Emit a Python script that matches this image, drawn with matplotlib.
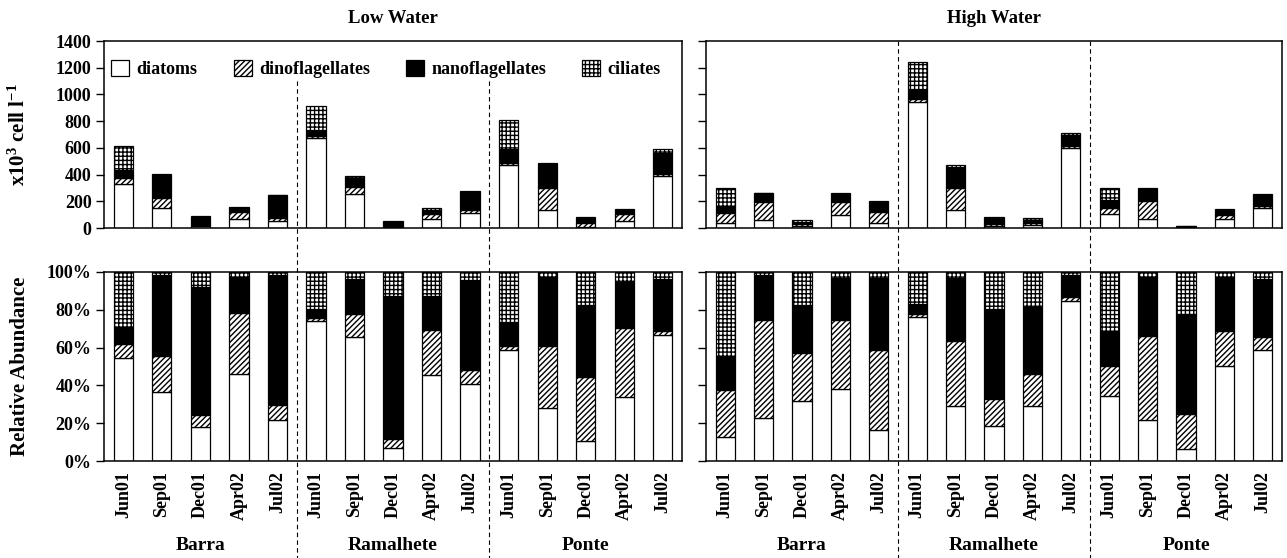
import numpy as np
import matplotlib.pyplot as plt
from matplotlib.transforms import blended_transform_factory
from matplotlib.lines import Line2D

plt.rcParams['font.family'] = ['Liberation Serif', 'DejaVu Serif']
plt.rcParams['font.weight'] = 'bold'
plt.rcParams['mathtext.fontset'] = 'custom'
plt.rcParams['mathtext.rm'] = 'Liberation Serif:bold'
plt.rcParams['mathtext.bf'] = 'Liberation Serif:bold'
plt.rcParams['mathtext.it'] = 'Liberation Serif:bold'
plt.rcParams['hatch.linewidth'] = 1.0

sites = ['Barra', 'Ramalhete', 'Ponte']
dates = ['Jun01', 'Sep01', 'Dec01', 'Apr02', 'Jul02']
groups = ['diatoms', 'dinoflagellates', 'nanoflagellates', 'ciliates']

# abundances, x10^3 cell/l ; Barra, Ramalhete, Ponte x (Jun01, Sep01, Dec01, Apr02, Jul02)
low_diatoms = [332, 147, 16, 71, 54,   673, 258, 3.5, 67, 113,   473, 138, 8.8, 49, 392]
low_dino    = [46, 76, 6, 50, 20,      16, 47, 2.2, 35, 20,      15, 160, 27.9, 53, 12]
low_nano    = [55, 173, 61, 30, 170,   43, 73, 37.9, 26, 133,    103, 177, 32.0, 35, 161]
low_cil     = [179, 6, 7, 4, 4,        178, 14, 6.4, 19, 11,     214, 14, 14.3, 8, 23]

high_diatoms = [38, 60, 18.4, 101, 34,   946, 136, 15.4, 22, 602,   104, 65, 1.1, 71, 150]
high_dino    = [75, 138, 14.6, 97, 86,   17, 162, 11.7, 12.9, 13,   47, 135, 3.4, 26, 17]
high_nano    = [55, 63, 14.8, 58, 78,    70, 158, 39.5, 27.1, 84,   56, 95, 9.5, 40, 79]
high_cil     = [134, 4, 10.2, 9, 7,      209, 15, 16.4, 14.1, 10,   94, 8, 4.0, 4, 9]

styles = [dict(color='white', hatch=None),
          dict(color='white', hatch='//////'),
          dict(color='black', hatch=None),
          dict(color='white', hatch='++++')]

W, H = 1287, 558
fig = plt.figure(figsize=(W / 100, H / 100), dpi=100)


def px(x0, y0, x1, y1):
    return [x0 / W, 1 - y1 / H, (x1 - x0) / W, (y1 - y0) / H]


axes = [
    (fig.add_axes(px(104, 41, 682, 228)), fig.add_axes(px(104, 272, 682, 461)),
     'Low Water', [low_diatoms, low_dino, low_nano, low_cil], True),
    (fig.add_axes(px(706, 41, 1282, 228)), fig.add_axes(px(706, 272, 1282, 461)),
     'High Water', [high_diatoms, high_dino, high_nano, high_cil], False),
]

x = np.arange(len(sites) * len(dates))
labels = dates * len(sites)

for ax_t, ax_b, title, data, first in axes:
    data = np.array(data, dtype=float)
    total = data.sum(axis=0)
    pct = data / total * 100
    bt = np.zeros(len(x))
    bb = np.zeros(len(x))
    for i, name in enumerate(groups):
        st = styles[i]
        ax_t.bar(x, data[i], 0.5, bottom=bt, color=st['color'], hatch=st['hatch'],
                 edgecolor='black', linewidth=0.9, label=name)
        ax_b.bar(x, pct[i], 0.5, bottom=bb, color=st['color'], hatch=st['hatch'],
                 edgecolor='black', linewidth=0.9)
        bt += data[i]
        bb += pct[i]

    for ax in (ax_t, ax_b):
        ax.set_xlim(-0.5, 14.5)
        for s in ax.spines.values():
            s.set_linewidth(1.1)
        ax.tick_params(axis='y', direction='out', length=6, width=1, labelsize=13, pad=3)

    ax_t.set_ylim(0, 1400)
    ax_t.set_yticks(np.arange(0, 1401, 200))
    ax_t.set_xticks([])
    ax_b.set_ylim(0, 100)
    ax_b.set_yticks(np.arange(0, 101, 20))
    ax_b.set_yticklabels(['%d%%' % v for v in range(0, 101, 20)])
    ax_b.set_xticks(x)
    ax_b.set_xticklabels(labels, rotation=90, fontsize=13, va='top')
    ax_b.tick_params(axis='x', length=0, pad=7)

    ax_t.text(0.5, 1.12, title, transform=ax_t.transAxes, ha='center', va='center',
              fontsize=13.5, fontweight='bold')

    tr = blended_transform_factory(ax_b.transData, ax_b.transAxes)
    for k, site in enumerate(sites):
        ax_b.text(k * 5 + 2, -0.445, site, transform=tr, ha='center', va='center',
                  fontsize=14, fontweight='bold')

    # dashed separators between sites, running down past the lower panel
    y_start = 1100 if first else 1400
    y0 = fig.transFigure.inverted().transform(ax_t.transData.transform((0, y_start)))[1]
    trf = blended_transform_factory(ax_t.transData, fig.transFigure)
    for xs in (4.5, 9.5):
        fig.add_artist(Line2D([xs, xs], [y0, 0], transform=trf, color='black',
                              linewidth=0.8, linestyle=(0, (4, 3))))

    if first:
        ax_t.set_ylabel('x10$^{3}$ cell l$^{-1}$', fontsize=15, fontweight='bold')
        ax_t.yaxis.set_label_coords(-0.128, 0.5)
        ax_b.set_ylabel('Relative Abundance', fontsize=15, fontweight='bold')
        ax_b.yaxis.set_label_coords(-0.128, 0.5)
        ax_t.legend(loc='center left', bbox_to_anchor=(0.0, 0.85), ncol=4, frameon=False,
                    fontsize=13, handlelength=1.0, handleheight=1.0, handletextpad=0.4,
                    columnspacing=2.0, borderpad=0.2, borderaxespad=0.2)
    else:
        ax_t.set_yticklabels([])
        ax_b.set_yticklabels([])

fig.savefig('out.png', dpi=100)
